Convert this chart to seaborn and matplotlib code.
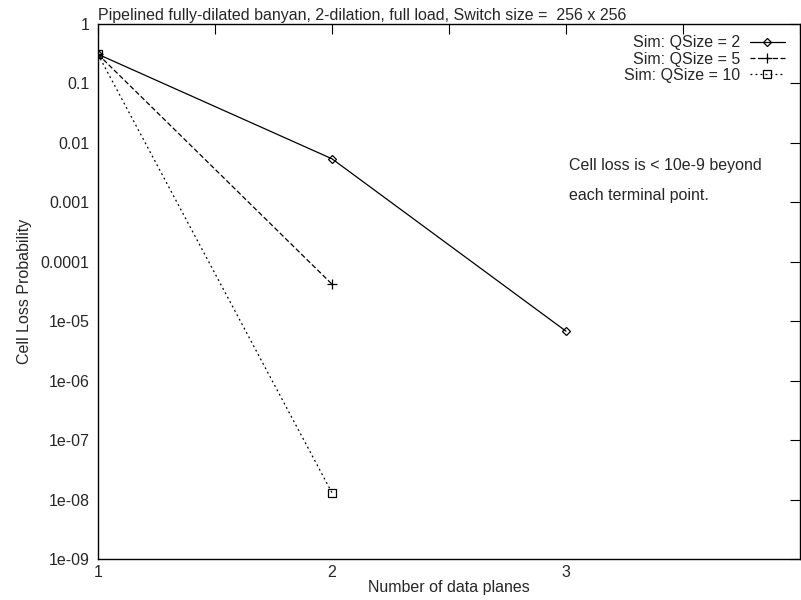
import numpy as np
import pandas as pd
import matplotlib
matplotlib.use('Agg')
import matplotlib.pyplot as plt
import seaborn as sns

# data
planes_q2 = [1, 2, 3]
loss_q2 = [0.31, 0.0054, 6.8e-6]
planes_q5 = [1, 2]
loss_q5 = [0.31, 4.2e-5]
planes_q10 = [1, 2]
loss_q10 = [0.31, 1.3e-8]
labels = ['Sim: QSize = 2', 'Sim: QSize = 5', 'Sim: QSize = 10']

ytick_vals = [1, 0.1, 0.01, 0.001, 0.0001, 1e-5, 1e-6, 1e-7, 1e-8, 1e-9]
ytick_labels = ['1', '0.1', '0.01', '0.001', '0.0001', '1e-05', '1e-06', '1e-07', '1e-08', '1e-09']

sns.set_style('white')
plt.rcParams['font.family'] = ['Liberation Sans', 'DejaVu Sans']
fs = 11.5

fig = plt.figure(figsize=(8.01, 6), dpi=100)
ax = fig.add_axes([0.1223, 0.0683, 0.8765, 0.8917])

series = [
    (planes_q2, loss_q2, labels[0], 'D', None, 4.5),
    (planes_q5, loss_q5, labels[1], '+', (4, 2), 7),
    (planes_q10, loss_q10, labels[2], 's', (1.5, 2.5), 6),
]
for xs, ys, lab, mk, dash, ms in series:
    sns.lineplot(x=xs, y=ys, label=lab, color='black', marker=mk,
                 markersize=ms, markerfacecolor='none', markeredgecolor='black',
                 markeredgewidth=0.9, linewidth=0.9, ax=ax)
    if dash is not None:
        ax.lines[-1].set_dashes(dash)

ax.set_yscale('log')
ax.set_xlim(1, 4)
ax.set_ylim(1e-9, 1)
ax.set_yticks(ytick_vals)
ax.set_yticklabels(ytick_labels)
ax.yaxis.set_minor_locator(matplotlib.ticker.NullLocator())
ax.set_xticks([1, 2, 3, 4])
ax.set_xticklabels(['1', '2', '3', ''])
ax.set_xticks([1.5, 2.5, 3.5], minor=True)
ax.tick_params(which='both', direction='in', top=True, right=True, length=7,
               width=0.8, labelsize=fs, color='black')
ax.tick_params(axis='y', pad=6)
ax.tick_params(axis='x', pad=4)
for s in ax.spines.values():
    s.set_color('black')
    s.set_linewidth(1.0)

ax.set_xlabel('Number of data planes', fontsize=fs, labelpad=0)
ax.set_ylabel('Cell Loss Probability', fontsize=fs, labelpad=6)
ax.set_title('Pipelined fully-dilated banyan, 2-dilation, full load, Switch size =  256 x 256',
             fontsize=fs, loc='left', pad=3)

ax.text(0.671, 0.7355, 'Cell loss is < 10e-9 beyond', transform=ax.transAxes,
        fontsize=fs, va='center')
ax.text(0.671, 0.68, 'each terminal point.', transform=ax.transAxes,
        fontsize=fs, va='center')

leg = ax.legend(loc='upper right', bbox_to_anchor=(1 - 9 / 702, 1 - 5 / 535),
                borderaxespad=0, frameon=False, markerfirst=False, fontsize=fs,
                handlelength=2.2, handletextpad=0.6, labelspacing=0.08,
                alignment='right')
for t in leg.get_texts():
    t.set_ha('right')

fig.savefig('out.png', dpi=100)
